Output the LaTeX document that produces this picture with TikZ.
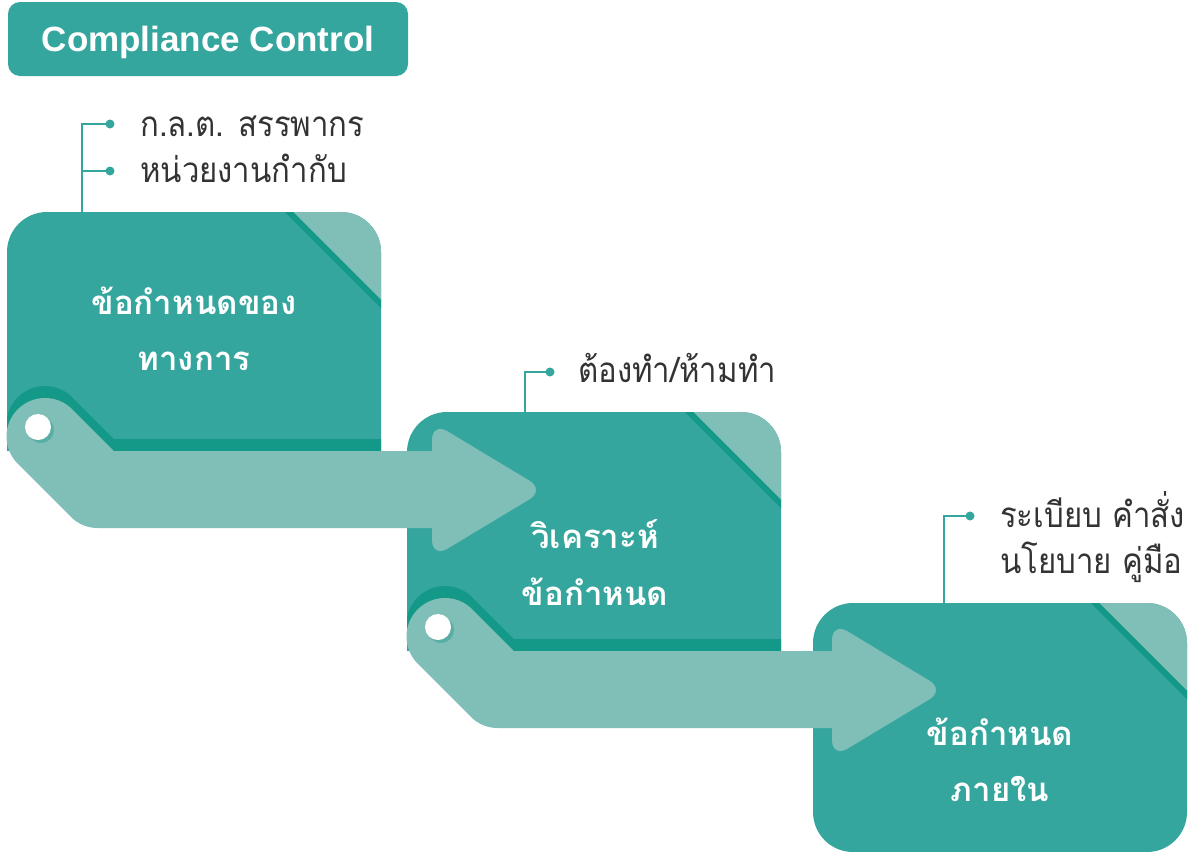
\documentclass[tikz,border=0pt]{standalone}
\usepackage{fontspec}
\setmainfont{Liberation Sans}
\newfontfamily\thai[Script=Thai]{Loma}
\newfontfamily\thaicond[Script=Thai, FakeStretch=0.89]{Loma}
\definecolor{boxc}{HTML}{35A69E}
\definecolor{lightc}{HTML}{80BEB8}
\definecolor{darkc}{HTML}{149988}
\definecolor{holec}{HTML}{5AADA4}
\definecolor{txtc}{HTML}{333333}
\newcommand\stepcard[4]{% shift x, shift y, bottom (relative), shadow(1/0)
\begin{scope}[shift={(#1,#2)}]
 \begin{scope}
  \ifnum#4=1
   \clip (-20,150) rectangle (420,#3);
   \clip[rounded corners=40] (7,212) rectangle (381,530);
  \else
   \clip[rounded corners=40] (7,212) rectangle (381,#3);
  \fi
  \fill[boxc] (-20,150) rectangle (420,#3);
  \fill[lightc] (281,200) -- (440,200) -- (440,359) -- cycle;
  \draw[darkc, line width=6] (265,188) -- (440,363);
  \ifnum#4=1
   \draw[darkc, line width=77, line cap=round, line join=round] (45,424.5) -- (98,477.5) -- (450,477.5);
  \fi
 \end{scope}
\end{scope}}
\newcommand\flowarrow[2]{%
\begin{scope}[shift={(#1,#2)}]
 \draw[lightc, line width=77, line cap=round, line join=round] (45,436.5) -- (98,489.5) -- (450,489.5);
 \fill[lightc, rounded corners=18] (432,422) -- (545,490) -- (432,558) -- cycle;
 \fill[holec] (41,430) circle (13);
 \fill[white] (38,427) circle (13);
\end{scope}}
\begin{document}
\begin{tikzpicture}[x=1pt,y=-1pt,
  labeltxt/.style={font=\thaicond\fontsize{35}{40}\selectfont, text=txtc, anchor=base west, inner sep=0},
  boxtxt/.style={font=\thai\bfseries\fontsize{33}{38}\selectfont, text=white, anchor=base, inner sep=0},
  bracket/.style={draw=boxc, line width=2.8},
  dotc/.style={circle, fill=boxc, inner sep=0, minimum size=9}]
\useasboundingbox (0,0) rectangle (1189,852);
% title
\node[fill=boxc, rounded corners=12, minimum width=400, minimum height=74, inner sep=0] (title) at (208,39) {};
\node[text=white, font=\bfseries\fontsize{35}{40}\selectfont, anchor=base, inner sep=0] (titletxt) at (208,51) {Compliance Control};
% cards and arrows
\stepcard{0}{0}{451}{1}
\stepcard{400}{200}{451}{1}
\flowarrow{0}{0}
\stepcard{806}{391}{461}{0}
\flowarrow{400}{200}
% card texts
\node[boxtxt] (c1a) at (194,314) {ข้อกำหนดของ};
\node[boxtxt] (c1b) at (194,370) {ทางการ};
\node[boxtxt] (c2a) at (595,548) {วิเคราะห์};
\node[boxtxt] (c2b) at (595,605) {ข้อกำหนด};
\node[boxtxt] (c3a) at (1000,745) {ข้อกำหนด};
\node[boxtxt] (c3b) at (1000,801) {ภายใน};
% labels
\node[labeltxt] (l1a) at (140,136) {ก.ล.ต. สรรพากร};
\node[labeltxt] (l1b) at (140,182) {หน่วยงานกำกับ};
\node[labeltxt] (l2) at (578,382) {ต้องทำ/ห้ามทำ};
\node[labeltxt] (l3a) at (1000,527) {ระเบียบ คำสั่ง};
\node[labeltxt] (l3b) at (1000,573) {นโยบาย คู่มือ};
% brackets
\coordinate (b1top) at (82,124);
\coordinate (b1mid) at (82,171);
\coordinate (b1bot) at (82,212);
\node[dotc] (d1a) at (110,124) {};
\node[dotc] (d1b) at (110,171) {};
\draw[bracket] (b1bot) -- (b1top) -- (d1a.center);
\draw[bracket] (b1mid) -- (d1b.center);
\coordinate (b2top) at (525,372);
\coordinate (b2bot) at (525,412);
\node[dotc] (d2) at (550,372) {};
\draw[bracket] (b2bot) -- (b2top) -- (d2.center);
\coordinate (b3top) at (944,516);
\coordinate (b3bot) at (944,603);
\node[dotc] (d3) at (970,516) {};
\draw[bracket] (b3bot) -- (b3top) -- (d3.center);
\end{tikzpicture}
\end{document}
